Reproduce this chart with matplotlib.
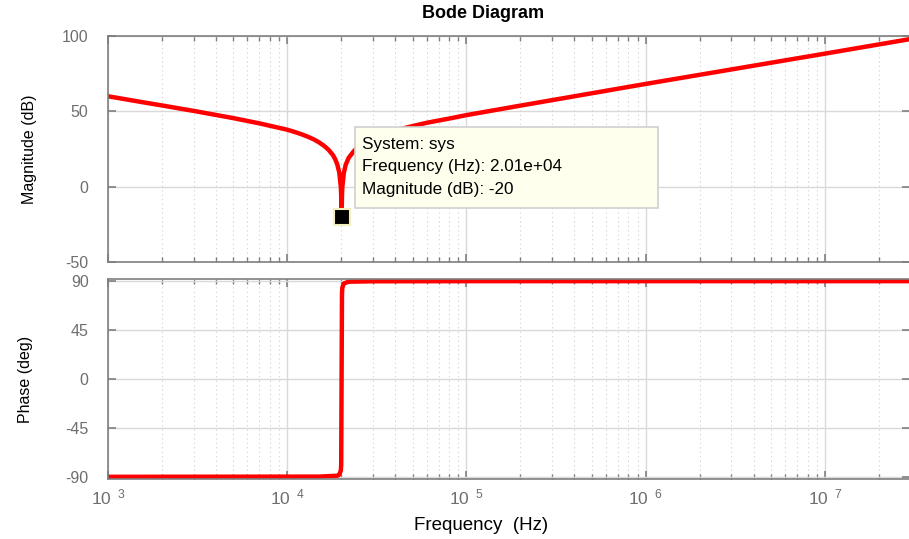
import matplotlib
matplotlib.use("Agg")
import matplotlib.pyplot as plt
from matplotlib.patches import Rectangle
from matplotlib.ticker import FixedLocator, LogLocator, NullFormatter, FixedFormatter
import numpy as np

plt.rcParams['font.family'] = ['Liberation Sans', 'DejaVu Sans']
plt.rcParams['mathtext.fontset'] = 'custom'
plt.rcParams['mathtext.rm'] = 'Liberation Sans'
plt.rcParams['mathtext.it'] = 'Liberation Sans:italic'
plt.rcParams['axes.unicode_minus'] = False

# magnitude response (Hz, dB)
mag_freq = [1e3, 1.5e3, 2e3, 3e3, 5e3, 7e3, 1e4, 1.1e4, 1.2e4, 1.3e4, 1.4e4,
            1.5e4, 1.6e4, 1.7e4, 1.8e4, 1.85e4, 1.9e4, 1.95e4, 1.99e4, 2.0e4,
            2.01e4, 2.02e4, 2.03e4, 2.07e4, 2.12e4, 2.2e4, 2.35e4, 2.5e4,
            2.75e4, 3e4, 3.5e4, 4e4, 5e4, 6e4, 8e4, 1e5, 2e5, 1e6, 1e7, 3e7]
mag_db = [60.0, 56.4, 53.9, 50.3, 45.5, 42.0, 37.8, 36.3, 34.8, 33.2, 31.5,
          29.5, 27.2, 24.5, 20.9, 18.3, 14.9, 9.6, 0.0, -5.9,
          -20.0, -6.0, -0.1, 9.3, 14.6, 19.1, 23.5, 26.8,
          29.8, 32.2, 35.0, 37.4, 40.2, 42.4, 45.2, 47.5, 53.8, 68.2, 88.3, 98.0]

# phase response (Hz, deg)
ph_freq = [1e3, 1.5e4, 1.9e4, 1.95e4, 1.99e4, 2.0e4, 2.01e4, 2.02e4, 2.03e4,
           2.07e4, 2.2e4, 3e4, 1e5, 3e7]
ph_deg = [-90, -89.8, -89.0, -88.0, -84.3, -78.6, 0, 78.5, 84.2,
          87.9, 89.5, 89.9, 90, 90]

# data tip
tip_freq = 2.01e4
tip_db = -20
tip_lines = ["System: sys", "Frequency (Hz): 2.01e+04", "Magnitude (dB): -20"]

mag_ticks = [-50, 0, 50, 100]
ph_ticks = [-90, -45, 0, 45, 90]
decades = [1e3, 1e4, 1e5, 1e6, 1e7]
decade_labels = [r'$\mathrm{10}^{\ \ %d}$' % int(np.log10(d)) for d in decades]

W, H = 909, 539
fig = plt.figure(figsize=(W / 100, H / 100), dpi=100)

def px(x0, y0, x1, y1):
    return [x0 / W, 1 - y1 / H, (x1 - x0) / W, (y1 - y0) / H]

ax_mag = fig.add_axes(px(108, 36, 910.5, 262))
ax_ph = fig.add_axes(px(108, 279, 910.5, 479))

spine_col = '#7f7f7f'
label_col = '#6e6e6e'

for ax in (ax_mag, ax_ph):
    ax.set_xscale('log')
    ax.set_xlim(1e3, 3e7)
    ax.xaxis.set_major_locator(FixedLocator(decades))
    ax.xaxis.set_minor_locator(LogLocator(base=10, subs=np.arange(2, 10), numticks=20))
    ax.xaxis.set_minor_formatter(NullFormatter())
    ax.grid(True, which='major', color='#d9d9d9', lw=1.0, ls='-')
    ax.grid(True, which='minor', axis='x', color='#cfcfcf', lw=0.8, ls=(0, (1, 3)))
    ax.set_axisbelow(True)
    for s in ax.spines.values():
        s.set_color(spine_col)
        s.set_linewidth(1.2)
    ax.tick_params(which='both', direction='in', top=True, right=True,
                   color=spine_col, labelcolor=label_col, labelsize=11.5)
    ax.tick_params(which='major', length=6, width=1.2)
    ax.tick_params(which='minor', length=3.5, width=1.0)
    ax.tick_params(axis='y', pad=14)

ax_mag.plot(mag_freq, mag_db, color='red', lw=3.2, solid_joinstyle='round')
ax_mag.set_ylim(-50, 100)
ax_mag.set_yticks(mag_ticks)
ax_mag.xaxis.set_major_formatter(NullFormatter())
ax_mag.set_ylabel('Magnitude (dB)', fontsize=11.5, labelpad=18)

ax_ph.plot(ph_freq, ph_deg, color='red', lw=3.2, solid_joinstyle='round')
ax_ph.set_ylim(-92, 92)
ax_ph.set_yticks(ph_ticks)
ax_ph.xaxis.set_major_formatter(FixedFormatter(decade_labels))
ax_ph.tick_params(axis='x', which='major', pad=6, labelsize=12.5)
ax_ph.set_ylabel('Phase (deg)', fontsize=11.5, labelpad=23)

# data tip marker and box
ax_mag.plot([tip_freq], [tip_db], marker='s', ms=11, mfc='black',
            mec='#f3f0c0', mew=1.5, zorder=6, clip_on=False)
fig.add_artist(Rectangle((355 / W, 1 - 208 / H), (658 - 355) / W, (208 - 127) / H,
                         transform=fig.transFigure, facecolor='#ffffee',
                         edgecolor='#cfcfcf', lw=1.2, zorder=5))
for i, line in enumerate(tip_lines):
    fig.text(362 / W, 1 - (144 + 23 * i) / H, line, fontsize=12.3,
             va='center', ha='left', zorder=6)

fig.text(483 / W, 1 - 13 / H, 'Bode Diagram', fontsize=13, fontweight='bold',
         ha='center', va='center')
fig.text(481 / W, 1 - 526 / H, 'Frequency  (Hz)', fontsize=13.5,
         ha='center', va='center')

fig.savefig('out.png', dpi=100)
